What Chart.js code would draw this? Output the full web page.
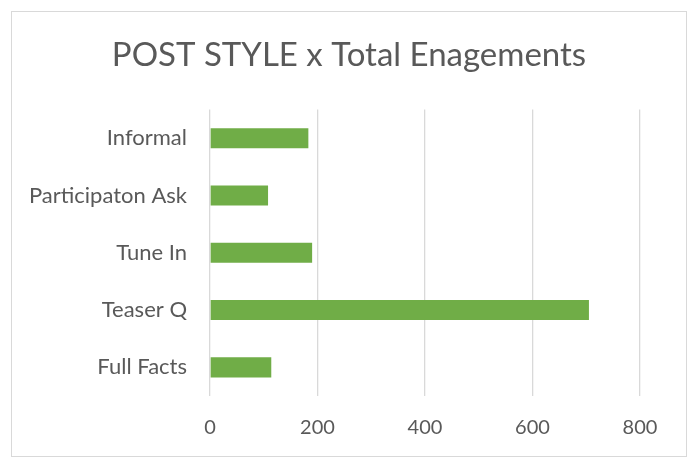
<!DOCTYPE html>
<html>
<head>
<meta charset="utf-8">
<script src="https://cdn.jsdelivr.net/npm/chart.js@4.4.1/dist/chart.umd.min.js"></script>
<style>
  html, body { margin: 0; padding: 0; background: #fff; }
  #wrap { width: 695px; height: 458px; position: relative; }
</style>
</head>
<body>
<div id="wrap"><canvas id="myChart"></canvas></div>
<script>
// chart data
const categories = ['Informal', 'Participaton Ask', 'Tune In', 'Teaser Q', 'Full Facts'];
const engagements = [183, 108, 190, 705, 114];
const xTicks = [0, 200, 400, 600, 800];

const textColor = '#595959';
const gridColor = '#d9d9d9';

// outer chart border like the office chart frame,
// and keep the title centred on the whole frame
const frame = {
    id: 'frame',
    afterLayout(chart) {
        const t = chart.titleBlock;
        if (t) {
            t.left = 11;
            t.right = 687;
            t.width = 676;
        }
    },
    beforeDraw(chart) {
        const c = chart.ctx;
        c.save();
        c.fillStyle = '#fff';
        c.fillRect(0, 0, chart.width, chart.height);
        c.strokeStyle = gridColor;
        c.lineWidth = 1;
        c.strokeRect(11.5, 11.5, 675, 445);
        c.restore();
    }
};

const data = {
    labels: categories,
    datasets: [{
        label: 'Total Enagements',
        backgroundColor: '#70ad47',
        data: engagements,
        categoryPercentage: 1,
        barPercentage: 0.35
    }]
};

const config = {
    type: 'bar',
    data,
    options: {
        indexAxis: 'y',
        responsive: false,
        animation: false,
        layout: { padding: { left: 0, right: 55, top: 0, bottom: 0 } },
        plugins: {
            legend: { display: false },
            tooltip: { enabled: false },
            title: {
                display: true,
                text: 'POST STYLE x Total Enagements',
                color: textColor,
                font: { family: 'Lato', size: 33, weight: 'normal' },
                padding: { top: 36, bottom: 34 }
            }
        },
        scales: {
            x: {
                min: 0,
                max: 800,
                afterBuildTicks(axis) {
                    axis.ticks = xTicks.map(v => ({ value: v }));
                },
                afterFit(axis) { axis.height = 62; },
                grid: { color: gridColor, lineWidth: 1.3, drawTicks: false },
                border: { display: false },
                ticks: {
                    color: textColor,
                    padding: 20,
                    font: { family: 'Lato', size: 20 }
                }
            },
            y: {
                afterFit(axis) { axis.width = 210; },
                grid: { display: false, drawTicks: false },
                border: { display: false },
                ticks: {
                    color: textColor,
                    padding: 23,
                    font: { family: 'Lato', size: 22 }
                }
            }
        }
    },
    plugins: [frame]
};

const canvas = document.getElementById('myChart');
canvas.width = 695;
canvas.height = 458;
canvas.style.width = '695px';
canvas.style.height = '458px';

var myChart = new Chart(canvas, config);
</script>
</body>
</html>
